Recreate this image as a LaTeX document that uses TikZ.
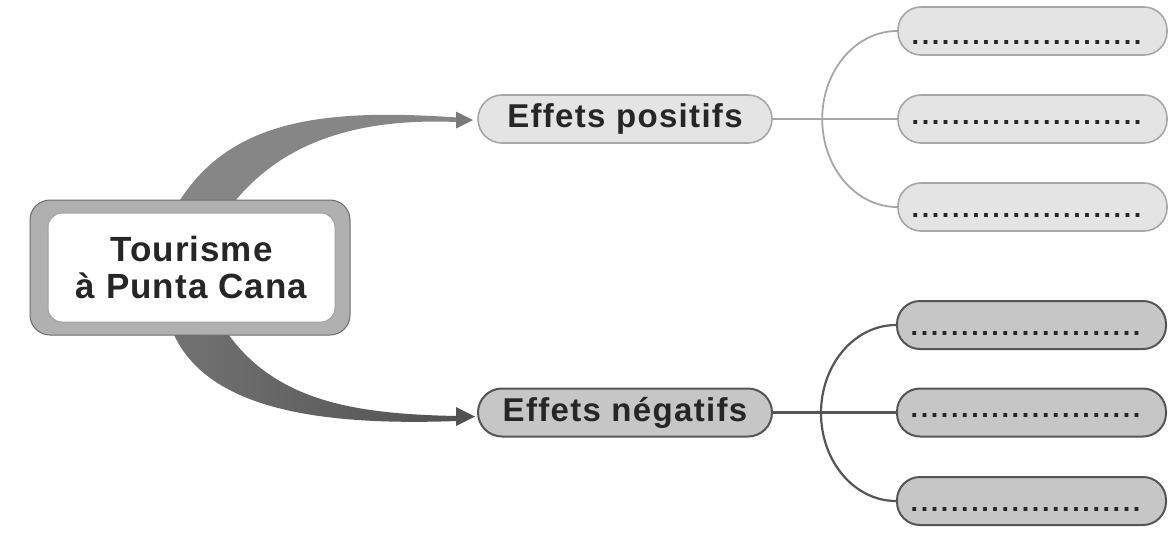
\documentclass[tikz,border=0pt]{standalone}
\usepackage{fontspec}
\setmainfont{Liberation Sans}
\definecolor{txt}{HTML}{262626}
\definecolor{posfill}{HTML}{E4E4E4}
\definecolor{posline}{HTML}{A6A6A6}
\definecolor{negfill}{HTML}{C6C6C6}
\definecolor{negline}{HTML}{555555}
\newcommand\dd{\makebox[10.1pt]{.}}
\newcommand\dotrow{\dd\dd\dd\dd\dd\dd\dd\dd\dd\dd\dd\dd\dd\dd\dd\dd\dd\dd\dd\dd\dd\dd\dd}
\begin{document}
\begin{tikzpicture}[x=1pt,y=-1pt,
  branchpos/.style={draw=posline, line width=1.6pt, fill=posfill, rounded corners=24pt, minimum width=294pt, minimum height=48pt, inner sep=0pt, text=txt, font=\fontsize{33}{36}\selectfont\bfseries\addfontfeature{LetterSpace=4}},
  branchneg/.style={branchpos, draw=negline, fill=negfill, line width=2pt},
  leafpos/.style={draw=posline, line width=1.6pt, fill=posfill, rounded corners=23pt, minimum width=269pt, minimum height=48pt, inner sep=0pt},
  leafneg/.style={leafpos, draw=negline, fill=negfill, line width=2pt},
  dotsrow/.style={anchor=base, inner sep=0pt, text=txt, font=\fontsize{27}{27}\selectfont\bfseries},
  linkpos/.style={draw=posline, line width=1.8pt},
  linkneg/.style={draw=negline, line width=2.2pt}
]
\useasboundingbox (0,0) rectangle (1175,542);
\fill[white] (0,0) rectangle (1175,542);

% top arrow (tapered)
\shade[left color=gray!95, right color=gray!105!black] (174,210) .. controls (225,120) and (320,108) .. (457,117.5)
  -- (457,122) .. controls (360,118) and (280,140) .. (228,210) -- cycle;
\fill[gray!95!black] (456,111.5) -- (473,120) -- (456,128.5) -- cycle;
% bottom arrow (tapered)
\shade[left color=gray!90!black, right color=black!68] (222,325) .. controls (270,400) and (350,414) .. (457,416)
  -- (457,421) .. controls (320,426) and (200,410) .. (170,325) -- cycle;
\fill[black!68] (456,407) -- (475,416.5) -- (456,426) -- cycle;

% central box
\node[draw=gray!85!black, line width=1pt, fill=gray!62, rounded corners=20pt, minimum width=320pt, minimum height=135pt] (cb) at (190,267.5) {};
\node[draw=gray!75, line width=1pt, fill=white, rounded corners=14pt, minimum width=287pt, minimum height=109pt, align=center, text=txt, font=\fontsize{35}{37}\selectfont\bfseries\addfontfeature{LetterSpace=3}] (ct) at (191.5,267.5) {Tourisme\\à Punta Cana};

% branches
\node[branchpos] (ep) at (625,119) {Effets positifs};
\node[branchneg] (en) at (625,412.5) {Effets négatifs};

% leaves positive
\node[leafpos] (p1) at (1032.5,31) {};
\node[leafpos] (p2) at (1032.5,119) {};
\node[leafpos] (p3) at (1032.5,207) {};
% leaves negative
\node[leafneg] (n1) at (1031.5,325) {};
\node[leafneg] (n2) at (1031.5,412.5) {};
\node[leafneg] (n3) at (1031.5,501) {};

% connectors positive
\draw[linkpos] (ep.east) -- (p2.west);
\draw[linkpos] (p1.west) arc[start angle=-90, end angle=-270, x radius=75, y radius=88];
% connectors negative
\draw[linkneg] (en.east) -- (n2.west);
\draw[linkneg] (n1.west) arc[start angle=-90, end angle=-270, x radius=75, y radius=88];

% dotted answer lines
\path (p1.center) ++(-6,13) node[dotsrow] (d1) {\dotrow};
\path (p2.center) ++(-6,5) node[dotsrow] (d2) {\dotrow};
\path (p3.center) ++(-6,10) node[dotsrow] (d3) {\dotrow};
\path (n1.center) ++(-6,10) node[dotsrow] (d4) {\dotrow};
\path (n2.center) ++(-6,5) node[dotsrow] (d5) {\dotrow};
\path (n3.center) ++(-6,10) node[dotsrow] (d6) {\dotrow};
\end{tikzpicture}
\end{document}
